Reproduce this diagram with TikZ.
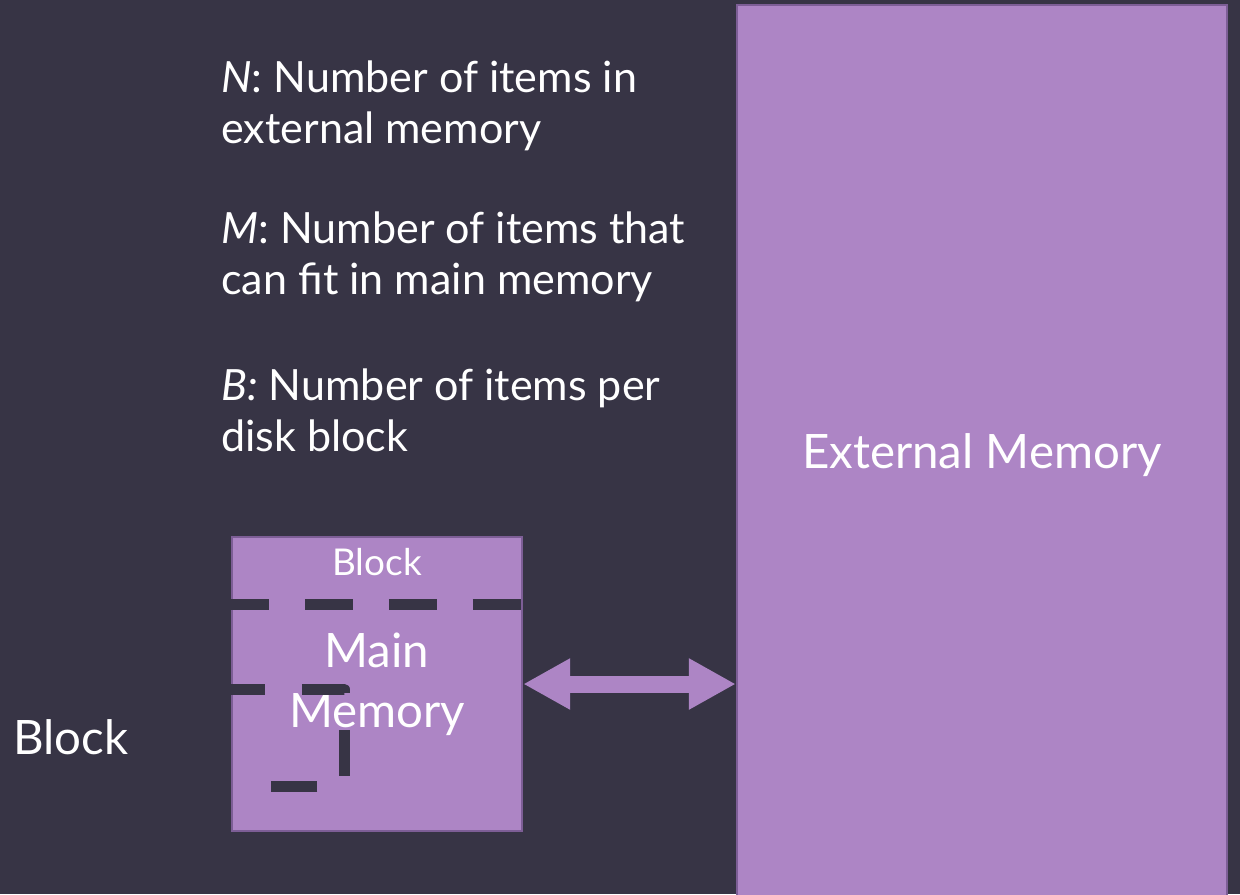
\documentclass[tikz,border=0pt]{standalone}
\usepackage{fontspec}
\setmainfont{Lato}
\usetikzlibrary{arrows.meta,positioning}
\definecolor{slate}{RGB}{55,52,69}
\definecolor{lilac}{RGB}{173,133,197}
\definecolor{lilacedge}{RGB}{125,94,150}
\tikzset{
	membox/.style={draw=lilacedge, fill=lilac, line width=0.05cm, text=white, inner sep=0pt, align=center},
	deftext/.style={anchor=north west, inner sep=0pt, align=left, text=white, font=\fontsize{24.5}{29}\selectfont},
	blockline/.style={draw=slate, line width=0.22cm},
}
\begin{document}
\begin{tikzpicture}[x=0.02cm, y=-0.02cm]
	\fill[slate] (0,0) rectangle (1240,894);
	\useasboundingbox (0,0) rectangle (1240,894);
	
	\node[deftext] (defN) at (221,60) {\textit{N}: Number of items in\\external memory};
	\node[deftext] (defM) at (221,211) {\textit{M}: Number of items that\\can fit in main memory};
	\node[deftext] (defB) at (221,368) {\textit{B:} Number of items per\\disk block};
	
	\node[membox, minimum width=9.8cm, minimum height=18cm, font=\fontsize{27}{32}\selectfont] (extmem) at (982,455) {External Memory};
	\node[membox, minimum width=5.8cm, minimum height=5.88cm, font=\fontsize{27}{34}\selectfont] (mainmem) at (377,684) {Main\\Memory};
	
	% block boundaries inside main memory
	\draw[blockline, dash pattern=on 0.96cm off 0.72cm, dash phase=0.2cm] (mainmem.west |- 0,604) -- (mainmem.east |- 0,604);
	\draw[blockline, line join=round, dash pattern=on 0.92cm off 0.74cm, dash phase=0.24cm] (mainmem.west |- 0,689) -- (344,689) -- (344,786) -- (245,786);
	\node[text=white, font=\fontsize{21}{25}\selectfont] (blocktop) at (377,562) {Block};
	\node[text=white, font=\fontsize{27}{32}\selectfont] (blockleft) at (71,737) {Block};
	
	\draw[lilac, line width=0.34cm, {Triangle[length=0.94cm,width=0.96cm]}-{Triangle[length=0.94cm,width=0.96cm]}] (mainmem.east) -- (mainmem.east -| extmem.west);
\end{tikzpicture}
\end{document}
